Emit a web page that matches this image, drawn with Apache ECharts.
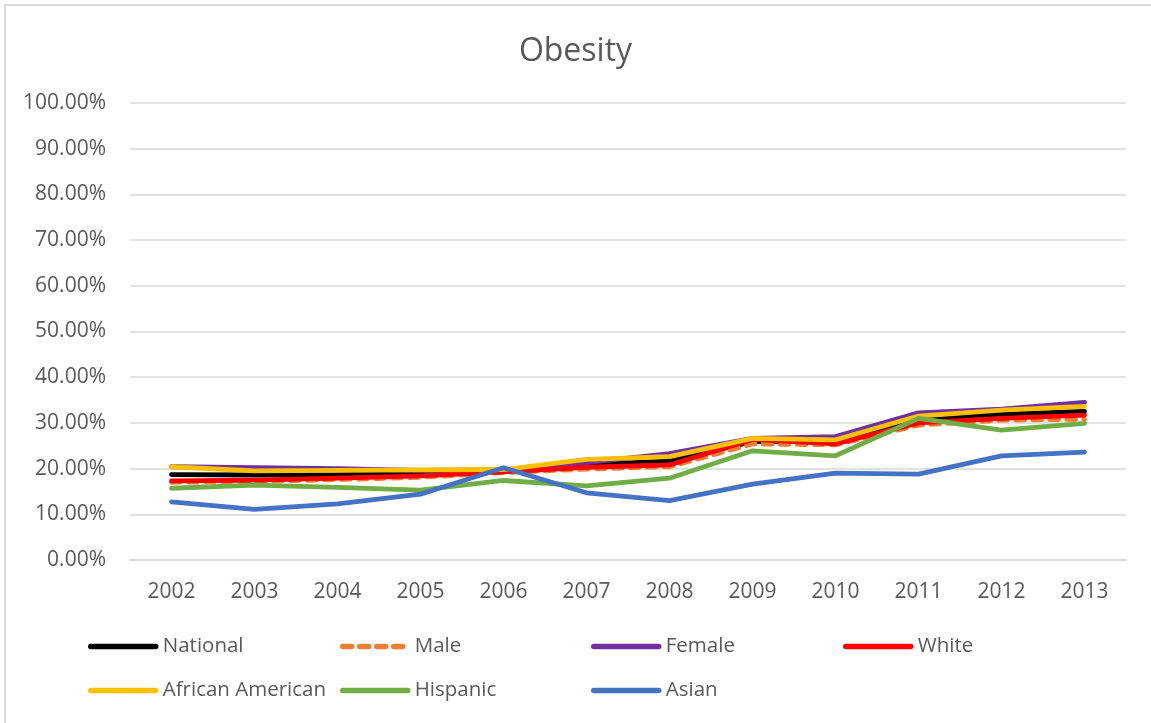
<!DOCTYPE html>
<html>
<head>
<meta charset="utf-8">
<script src="https://cdn.jsdelivr.net/npm/echarts@6/dist/echarts.min.js"></script>
<style>
  html, body { margin: 0; padding: 0; background: #ffffff; }
  #chart { width: 1151px; height: 723px; }
</style>
</head>
<body>
<div id="chart"></div>
<script>
// Obesity rates (%) by group, 2002–2013
const years = ['2002','2003','2004','2005','2006','2007','2008','2009','2010','2011','2012','2013'];
const national        = [18.7, 18.6, 18.7, 19.1, 19.6, 20.8, 21.7, 25.9, 25.9, 30.6, 31.9, 32.5];
const male            = [17.0, 17.2, 17.6, 18.1, 19.1, 19.9, 20.4, 25.4, 25.2, 29.5, 30.6, 30.8];
const female          = [20.4, 20.2, 20.0, 19.6, 19.7, 21.3, 23.3, 26.6, 27.0, 32.2, 33.0, 34.5];
const white           = [17.3, 17.5, 17.9, 18.4, 19.3, 20.3, 20.8, 26.4, 25.4, 30.0, 31.0, 31.7];
const africanAmerican = [20.4, 19.5, 19.6, 19.7, 19.8, 22.0, 22.6, 26.6, 26.3, 31.5, 32.8, 33.6];
const hispanic        = [15.7, 16.4, 15.9, 15.3, 17.4, 16.2, 17.9, 23.9, 22.8, 31.0, 28.4, 29.9];
const asian           = [12.7, 11.1, 12.3, 14.4, 20.2, 14.7, 13.0, 16.6, 19.0, 18.8, 22.8, 23.6];
const yTicks = { min: 0, max: 100, step: 10 };

const FONT = '"Open Sans", "Liberation Sans", sans-serif';
const TEXT = '#595959';
const GRID = '#d9d9d9';

const seriesDefs = [
  { name: 'National',         data: national,        color: '#000000' },
  { name: 'Male',             data: male,            color: '#ED7D31', dashed: true },
  { name: 'Female',           data: female,          color: '#7030A0' },
  { name: 'White',            data: white,           color: '#FF0000' },
  { name: 'African American', data: africanAmerican, color: '#FFC000' },
  { name: 'Hispanic',         data: hispanic,        color: '#70AD47' },
  { name: 'Asian',            data: asian,           color: '#4472C4' }
];
const DASH = [9, 8];

// legend laid out on a fixed 4-column grid, two rows
const legendCols = [88, 340, 591, 843];
const legendRows = [636, 680];

const legends = seriesDefs.map((s, i) => ({
  data: [s.name],
  left: legendCols[i % 4],
  top: legendRows[Math.floor(i / 4)],
  padding: 0,
  itemWidth: 65,
  itemHeight: 18,
  itemGap: 0,
  itemStyle: { opacity: 0 },
  lineStyle: { width: 5.5, cap: 'round', type: s.dashed ? DASH : 'solid', color: s.color },
  textStyle: { fontFamily: FONT, fontSize: 20.5, color: TEXT, padding: [0, 0, 0, 2] }
}));

const chart = echarts.init(document.getElementById('chart'), null, { renderer: 'canvas' });
chart.setOption({
  backgroundColor: '#ffffff',
  animation: false,
  title: {
    text: 'Obesity',
    left: 'center',
    top: 31,
    textStyle: { fontFamily: FONT, fontSize: 32, fontWeight: 'normal', color: TEXT }
  },
  graphic: [{
    type: 'rect',
    shape: { x: 5, y: 5, width: 1300, height: 900 },
    style: { fill: 'none', stroke: GRID, lineWidth: 2 },
    silent: true
  }],
  legend: legends,
  grid: { left: 130, right: 25, top: 103, bottom: 163 },
  xAxis: {
    type: 'category',
    data: years,
    boundaryGap: true,
    axisTick: { show: false },
    axisLine: { show: true, lineStyle: { color: GRID, width: 1.5 } },
    axisLabel: { fontFamily: FONT, fontSize: 21, color: TEXT, margin: 22 }
  },
  yAxis: {
    type: 'value',
    min: yTicks.min,
    max: yTicks.max,
    interval: yTicks.step,
    axisLine: { show: false },
    axisTick: { show: false },
    splitLine: { lineStyle: { color: GRID, width: 1.5 } },
    axisLabel: {
      fontFamily: FONT, fontSize: 21, color: TEXT, margin: 24,
      formatter: v => v.toFixed(2) + '%'
    }
  },
  series: seriesDefs.map(s => ({
    name: s.name,
    type: 'line',
    data: s.data,
    symbol: 'none',
    showSymbol: false,
    color: s.color,
    lineStyle: {
      color: s.color,
      width: 4.8,
      cap: 'round',
      join: 'round',
      type: s.dashed ? DASH : 'solid'
    }
  }))
});
</script>
</body>
</html>
